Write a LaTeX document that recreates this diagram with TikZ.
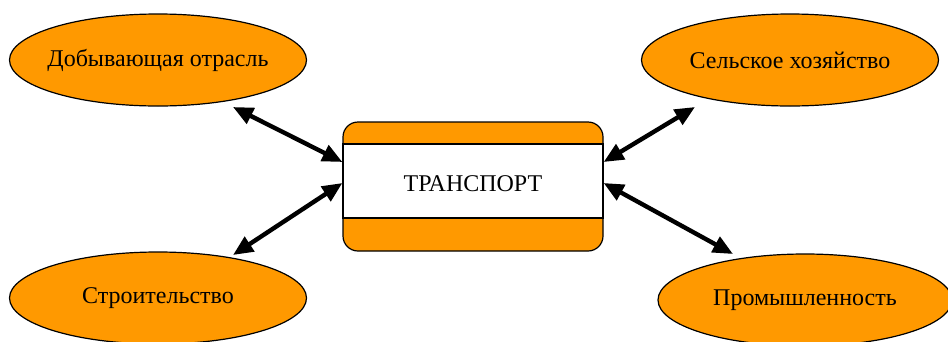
\documentclass[tikz,border=0pt]{standalone}
\usepackage{fontspec}
\setmainfont{Liberation Serif}
\usetikzlibrary{arrows.meta,shapes.geometric,calc}
\definecolor{boxorange}{RGB}{255,153,0}
\tikzset{
  branch/.style={ellipse, draw=black, line width=1.2pt, fill=boxorange,
    minimum width=#1, minimum height=92pt, inner sep=0pt},
  branch/.default=297pt,
  branchtext/.style={label={[font=\fontsize{24}{28}\selectfont]center:#1}},
  hub/.style={draw=black, line width=1.2pt, fill=boxorange, rounded corners=15pt,
    minimum width=260pt, minimum height=129pt, inner sep=0pt},
  band/.style={draw=black, line width=1.2pt, fill=white,
    minimum width=260pt, minimum height=74pt, inner sep=0pt},
  link/.style={line width=4.4pt, {Triangle[length=20pt,width=17pt]}-{Triangle[length=20pt,width=17pt]}}
}
\begin{document}
\begin{tikzpicture}[x=1pt, y=-1pt]
  \useasboundingbox (0,0) rectangle (948,341);
  % central hub with white band
  \node[hub] (tr) at (473,186.5) {};
  \node[band] (trband) at (473,181) {};
  \node[font=\fontsize{24}{28}\selectfont] (trtext) at (473,184) {ТРАНСПОРТ};
  % branches (label kept out of the size calculation)
  \node[branch, branchtext={Добывающая отрасль}] (dob) at (158,60) {};
  \node[branch, branchtext={Сельское хозяйство}] (sel) at (790,60) {};
  \node[branch=297pt, branchtext={Строительство}] (str) at (158,298) {};
  \node[branch=294pt, branchtext={Промышленность}] (prom) at (805,300) {};
  % links
  \draw[link] ($(dob.center)+(75,47)$) -- ($(tr.west)+(0,-24.5)$);
  \draw[link] ($(str.center)+(75,-43)$) -- ($(tr.west)+(0,-3.5)$);
  \draw[link] ($(sel.center)+(-95,47)$) -- ($(tr.east)+(0,-24.5)$);
  \draw[link] ($(prom.center)+(-72,-46)$) -- ($(tr.east)+(0,-3.5)$);
\end{tikzpicture}
\end{document}
